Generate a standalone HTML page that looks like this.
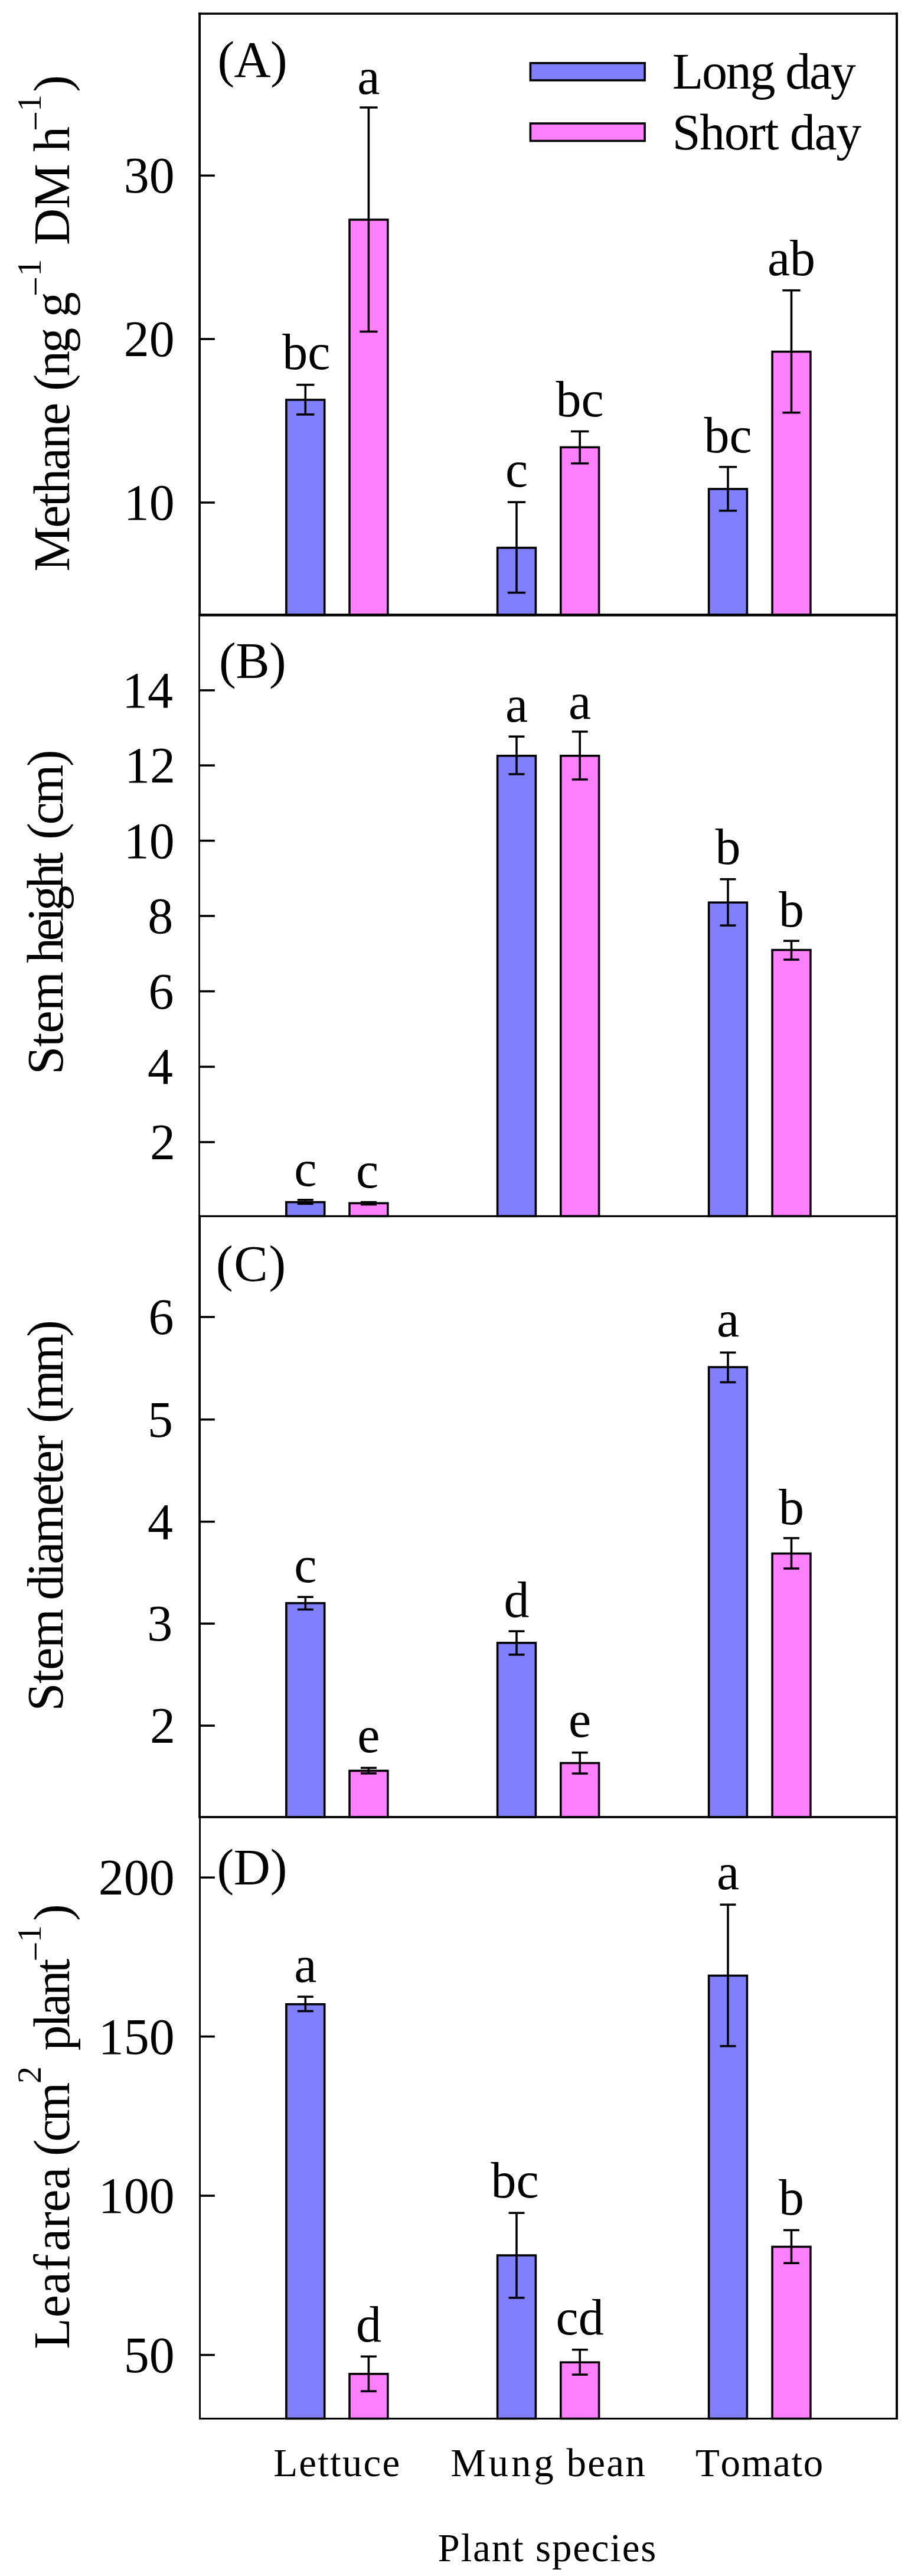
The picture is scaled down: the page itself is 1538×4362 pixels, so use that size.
<!DOCTYPE html>
<html lang="en"><head><meta charset="utf-8"><title>Figure</title>
<style>html,body{margin:0;padding:0;background:#fff}svg{display:block}text{font-family:"Liberation Serif", "Times New Roman", serif;fill:#000;font-kerning:none;font-variant-ligatures:none}</style></head><body>
<svg width="1538" height="4362" viewBox="0 0 1538 4362">
<rect width="1538" height="4362" fill="#fff"/>
<g id="panel0">
<rect x="484.90" y="677.00" width="64.80" height="364.40" fill="#8080ff" stroke="#000" stroke-width="3.6"/>
<line x1="517.30" y1="651.60" x2="517.30" y2="701.90" stroke="#000" stroke-width="3.6"/>
<line x1="502.10" y1="651.60" x2="532.50" y2="651.60" stroke="#000" stroke-width="3.6"/>
<line x1="502.10" y1="701.90" x2="532.50" y2="701.90" stroke="#000" stroke-width="3.6"/>
<text x="518.9" y="625.3" font-size="86" text-anchor="middle">bc</text>
<rect x="592.00" y="372.00" width="64.80" height="669.40" fill="#ff80ff" stroke="#000" stroke-width="3.6"/>
<line x1="624.40" y1="182.00" x2="624.40" y2="561.50" stroke="#000" stroke-width="3.6"/>
<line x1="609.20" y1="182.00" x2="639.60" y2="182.00" stroke="#000" stroke-width="3.6"/>
<line x1="609.20" y1="561.50" x2="639.60" y2="561.50" stroke="#000" stroke-width="3.6"/>
<text x="624.4" y="158.6" font-size="86" text-anchor="middle">a</text>
<rect x="842.60" y="927.60" width="64.80" height="113.80" fill="#8080ff" stroke="#000" stroke-width="3.6"/>
<line x1="875.00" y1="850.30" x2="875.00" y2="1003.60" stroke="#000" stroke-width="3.6"/>
<line x1="859.80" y1="850.30" x2="890.20" y2="850.30" stroke="#000" stroke-width="3.6"/>
<line x1="859.80" y1="1003.60" x2="890.20" y2="1003.60" stroke="#000" stroke-width="3.6"/>
<text x="875.0" y="824.0" font-size="86" text-anchor="middle">c</text>
<rect x="949.80" y="757.40" width="64.80" height="284.00" fill="#ff80ff" stroke="#000" stroke-width="3.6"/>
<line x1="982.20" y1="730.50" x2="982.20" y2="784.70" stroke="#000" stroke-width="3.6"/>
<line x1="967.00" y1="730.50" x2="997.40" y2="730.50" stroke="#000" stroke-width="3.6"/>
<line x1="967.00" y1="784.70" x2="997.40" y2="784.70" stroke="#000" stroke-width="3.6"/>
<text x="982.2" y="704.5" font-size="86" text-anchor="middle">bc</text>
<rect x="1200.60" y="828.00" width="64.80" height="213.40" fill="#8080ff" stroke="#000" stroke-width="3.6"/>
<line x1="1233.00" y1="790.70" x2="1233.00" y2="864.80" stroke="#000" stroke-width="3.6"/>
<line x1="1217.80" y1="790.70" x2="1248.20" y2="790.70" stroke="#000" stroke-width="3.6"/>
<line x1="1217.80" y1="864.80" x2="1248.20" y2="864.80" stroke="#000" stroke-width="3.6"/>
<text x="1233.0" y="765.6" font-size="86" text-anchor="middle">bc</text>
<rect x="1308.10" y="595.50" width="64.80" height="445.90" fill="#ff80ff" stroke="#000" stroke-width="3.6"/>
<line x1="1340.50" y1="491.70" x2="1340.50" y2="698.70" stroke="#000" stroke-width="3.6"/>
<line x1="1325.30" y1="491.70" x2="1355.70" y2="491.70" stroke="#000" stroke-width="3.6"/>
<line x1="1325.30" y1="698.70" x2="1355.70" y2="698.70" stroke="#000" stroke-width="3.6"/>
<text x="1340.5" y="465.7" font-size="86" text-anchor="middle">ab</text>
<line x1="338.10" y1="297.30" x2="363.90" y2="297.30" stroke="#000" stroke-width="3.6"/>
<text x="295.7" y="326.3" font-size="86" text-anchor="end">30</text>
<line x1="338.10" y1="574.10" x2="363.90" y2="574.10" stroke="#000" stroke-width="3.6"/>
<text x="295.7" y="603.1" font-size="86" text-anchor="end">20</text>
<line x1="338.10" y1="851.00" x2="363.90" y2="851.00" stroke="#000" stroke-width="3.6"/>
<text x="295.7" y="880.0" font-size="86" text-anchor="end">10</text>
<text x="368.4" y="129.5" font-size="86" style="letter-spacing:-0.61px">(A)</text>
</g>
<g id="panel1">
<rect x="484.90" y="2035.60" width="64.80" height="23.80" fill="#8080ff" stroke="#000" stroke-width="3.6"/>
<line x1="517.30" y1="2031.80" x2="517.30" y2="2038.40" stroke="#000" stroke-width="3.6"/>
<line x1="503.80" y1="2031.80" x2="530.80" y2="2031.80" stroke="#000" stroke-width="3.6"/>
<line x1="503.80" y1="2038.40" x2="530.80" y2="2038.40" stroke="#000" stroke-width="3.6"/>
<text x="517.3" y="2008.4" font-size="86" text-anchor="middle">c</text>
<rect x="592.00" y="2037.40" width="64.80" height="22.00" fill="#ff80ff" stroke="#000" stroke-width="3.6"/>
<line x1="624.40" y1="2035.60" x2="624.40" y2="2039.60" stroke="#000" stroke-width="3.6"/>
<line x1="610.90" y1="2035.60" x2="637.90" y2="2035.60" stroke="#000" stroke-width="3.6"/>
<line x1="610.90" y1="2039.60" x2="637.90" y2="2039.60" stroke="#000" stroke-width="3.6"/>
<text x="622.1" y="2010.7" font-size="86" text-anchor="middle">c</text>
<rect x="842.60" y="1279.80" width="64.80" height="779.60" fill="#8080ff" stroke="#000" stroke-width="3.6"/>
<line x1="875.00" y1="1247.20" x2="875.00" y2="1310.90" stroke="#000" stroke-width="3.6"/>
<line x1="861.50" y1="1247.20" x2="888.50" y2="1247.20" stroke="#000" stroke-width="3.6"/>
<line x1="861.50" y1="1310.90" x2="888.50" y2="1310.90" stroke="#000" stroke-width="3.6"/>
<text x="875.0" y="1222.4" font-size="86" text-anchor="middle">a</text>
<rect x="949.80" y="1279.80" width="64.80" height="779.60" fill="#ff80ff" stroke="#000" stroke-width="3.6"/>
<line x1="982.20" y1="1238.90" x2="982.20" y2="1319.90" stroke="#000" stroke-width="3.6"/>
<line x1="968.70" y1="1238.90" x2="995.70" y2="1238.90" stroke="#000" stroke-width="3.6"/>
<line x1="968.70" y1="1319.90" x2="995.70" y2="1319.90" stroke="#000" stroke-width="3.6"/>
<text x="982.2" y="1216.8" font-size="86" text-anchor="middle">a</text>
<rect x="1200.60" y="1528.20" width="64.80" height="531.20" fill="#8080ff" stroke="#000" stroke-width="3.6"/>
<line x1="1233.00" y1="1488.80" x2="1233.00" y2="1567.10" stroke="#000" stroke-width="3.6"/>
<line x1="1219.50" y1="1488.80" x2="1246.50" y2="1488.80" stroke="#000" stroke-width="3.6"/>
<line x1="1219.50" y1="1567.10" x2="1246.50" y2="1567.10" stroke="#000" stroke-width="3.6"/>
<text x="1233.0" y="1463.4" font-size="86" text-anchor="middle">b</text>
<rect x="1308.10" y="1608.60" width="64.80" height="450.80" fill="#ff80ff" stroke="#000" stroke-width="3.6"/>
<line x1="1340.50" y1="1593.20" x2="1340.50" y2="1625.00" stroke="#000" stroke-width="3.6"/>
<line x1="1327.00" y1="1593.20" x2="1354.00" y2="1593.20" stroke="#000" stroke-width="3.6"/>
<line x1="1327.00" y1="1625.00" x2="1354.00" y2="1625.00" stroke="#000" stroke-width="3.6"/>
<text x="1340.5" y="1568.8" font-size="86" text-anchor="middle">b</text>
<line x1="338.10" y1="1168.90" x2="363.90" y2="1168.90" stroke="#000" stroke-width="3.6"/>
<text x="292.9" y="1197.9" font-size="86" text-anchor="end">14</text>
<line x1="338.10" y1="1296.10" x2="363.90" y2="1296.10" stroke="#000" stroke-width="3.6"/>
<text x="296.9" y="1325.1" font-size="86" text-anchor="end">12</text>
<line x1="338.10" y1="1423.60" x2="363.90" y2="1423.60" stroke="#000" stroke-width="3.6"/>
<text x="295.7" y="1452.6" font-size="86" text-anchor="end">10</text>
<line x1="338.10" y1="1551.00" x2="363.90" y2="1551.00" stroke="#000" stroke-width="3.6"/>
<text x="293.3" y="1580.0" font-size="86" text-anchor="end">8</text>
<line x1="338.10" y1="1678.60" x2="363.90" y2="1678.60" stroke="#000" stroke-width="3.6"/>
<text x="294.4" y="1707.6" font-size="86" text-anchor="end">6</text>
<line x1="338.10" y1="1806.40" x2="363.90" y2="1806.40" stroke="#000" stroke-width="3.6"/>
<text x="292.9" y="1835.4" font-size="86" text-anchor="end">4</text>
<line x1="338.10" y1="1934.00" x2="363.90" y2="1934.00" stroke="#000" stroke-width="3.6"/>
<text x="296.9" y="1963.0" font-size="86" text-anchor="end">2</text>
<text x="371.1" y="1147.5" font-size="86" style="letter-spacing:-0.59px">(B)</text>
</g>
<g id="panel2">
<rect x="484.90" y="2714.60" width="64.80" height="362.30" fill="#8080ff" stroke="#000" stroke-width="3.6"/>
<line x1="517.30" y1="2704.20" x2="517.30" y2="2725.40" stroke="#000" stroke-width="3.6"/>
<line x1="503.80" y1="2704.20" x2="530.80" y2="2704.20" stroke="#000" stroke-width="3.6"/>
<line x1="503.80" y1="2725.40" x2="530.80" y2="2725.40" stroke="#000" stroke-width="3.6"/>
<text x="517.3" y="2679.1" font-size="86" text-anchor="middle">c</text>
<rect x="592.00" y="2998.50" width="64.80" height="78.40" fill="#ff80ff" stroke="#000" stroke-width="3.6"/>
<line x1="624.40" y1="2993.60" x2="624.40" y2="3002.90" stroke="#000" stroke-width="3.6"/>
<line x1="610.90" y1="2993.60" x2="637.90" y2="2993.60" stroke="#000" stroke-width="3.6"/>
<line x1="610.90" y1="3002.90" x2="637.90" y2="3002.90" stroke="#000" stroke-width="3.6"/>
<text x="624.4" y="2966.5" font-size="86" text-anchor="middle">e</text>
<rect x="842.60" y="2781.90" width="64.80" height="295.00" fill="#8080ff" stroke="#000" stroke-width="3.6"/>
<line x1="875.00" y1="2762.20" x2="875.00" y2="2801.90" stroke="#000" stroke-width="3.6"/>
<line x1="861.50" y1="2762.20" x2="888.50" y2="2762.20" stroke="#000" stroke-width="3.6"/>
<line x1="861.50" y1="2801.90" x2="888.50" y2="2801.90" stroke="#000" stroke-width="3.6"/>
<text x="875.0" y="2738.4" font-size="86" text-anchor="middle">d</text>
<rect x="949.80" y="2985.40" width="64.80" height="91.50" fill="#ff80ff" stroke="#000" stroke-width="3.6"/>
<line x1="982.20" y1="2967.70" x2="982.20" y2="3003.10" stroke="#000" stroke-width="3.6"/>
<line x1="968.70" y1="2967.70" x2="995.70" y2="2967.70" stroke="#000" stroke-width="3.6"/>
<line x1="968.70" y1="3003.10" x2="995.70" y2="3003.10" stroke="#000" stroke-width="3.6"/>
<text x="982.2" y="2941.3" font-size="86" text-anchor="middle">e</text>
<rect x="1200.60" y="2315.00" width="64.80" height="761.90" fill="#8080ff" stroke="#000" stroke-width="3.6"/>
<line x1="1233.00" y1="2290.30" x2="1233.00" y2="2340.60" stroke="#000" stroke-width="3.6"/>
<line x1="1219.50" y1="2290.30" x2="1246.50" y2="2290.30" stroke="#000" stroke-width="3.6"/>
<line x1="1219.50" y1="2340.60" x2="1246.50" y2="2340.60" stroke="#000" stroke-width="3.6"/>
<text x="1233.0" y="2263.3" font-size="86" text-anchor="middle">a</text>
<rect x="1308.10" y="2630.60" width="64.80" height="446.30" fill="#ff80ff" stroke="#000" stroke-width="3.6"/>
<line x1="1340.50" y1="2604.50" x2="1340.50" y2="2656.00" stroke="#000" stroke-width="3.6"/>
<line x1="1327.00" y1="2604.50" x2="1354.00" y2="2604.50" stroke="#000" stroke-width="3.6"/>
<line x1="1327.00" y1="2656.00" x2="1354.00" y2="2656.00" stroke="#000" stroke-width="3.6"/>
<text x="1340.5" y="2580.7" font-size="86" text-anchor="middle">b</text>
<line x1="338.10" y1="2230.10" x2="363.90" y2="2230.10" stroke="#000" stroke-width="3.6"/>
<text x="294.4" y="2259.1" font-size="86" text-anchor="end">6</text>
<line x1="338.10" y1="2403.70" x2="363.90" y2="2403.70" stroke="#000" stroke-width="3.6"/>
<text x="293.0" y="2432.7" font-size="86" text-anchor="end">5</text>
<line x1="338.10" y1="2576.70" x2="363.90" y2="2576.70" stroke="#000" stroke-width="3.6"/>
<text x="292.9" y="2605.7" font-size="86" text-anchor="end">4</text>
<line x1="338.10" y1="2749.30" x2="363.90" y2="2749.30" stroke="#000" stroke-width="3.6"/>
<text x="292.2" y="2778.3" font-size="86" text-anchor="end">3</text>
<line x1="338.10" y1="2922.10" x2="363.90" y2="2922.10" stroke="#000" stroke-width="3.6"/>
<text x="296.9" y="2951.1" font-size="86" text-anchor="end">2</text>
<text x="366.0" y="2168.7" font-size="86" style="letter-spacing:1.71px">(C)</text>
</g>
<g id="panel3">
<rect x="484.90" y="3393.80" width="64.80" height="701.70" fill="#8080ff" stroke="#000" stroke-width="3.6"/>
<line x1="517.30" y1="3381.10" x2="517.30" y2="3405.50" stroke="#000" stroke-width="3.6"/>
<line x1="503.80" y1="3381.10" x2="530.80" y2="3381.10" stroke="#000" stroke-width="3.6"/>
<line x1="503.80" y1="3405.50" x2="530.80" y2="3405.50" stroke="#000" stroke-width="3.6"/>
<text x="517.3" y="3356.0" font-size="86" text-anchor="middle">a</text>
<rect x="592.00" y="4019.80" width="64.80" height="75.70" fill="#ff80ff" stroke="#000" stroke-width="3.6"/>
<line x1="624.40" y1="3990.30" x2="624.40" y2="4049.10" stroke="#000" stroke-width="3.6"/>
<line x1="610.90" y1="3990.30" x2="637.90" y2="3990.30" stroke="#000" stroke-width="3.6"/>
<line x1="610.90" y1="4049.10" x2="637.90" y2="4049.10" stroke="#000" stroke-width="3.6"/>
<text x="624.4" y="3965.2" font-size="86" text-anchor="middle">d</text>
<rect x="842.60" y="3819.00" width="64.80" height="276.50" fill="#8080ff" stroke="#000" stroke-width="3.6"/>
<line x1="875.00" y1="3747.20" x2="875.00" y2="3890.90" stroke="#000" stroke-width="3.6"/>
<line x1="861.50" y1="3747.20" x2="888.50" y2="3747.20" stroke="#000" stroke-width="3.6"/>
<line x1="861.50" y1="3890.90" x2="888.50" y2="3890.90" stroke="#000" stroke-width="3.6"/>
<text x="872.0" y="3720.8" font-size="86" text-anchor="middle">bc</text>
<rect x="949.80" y="4000.20" width="64.80" height="95.30" fill="#ff80ff" stroke="#000" stroke-width="3.6"/>
<line x1="982.20" y1="3978.80" x2="982.20" y2="4021.00" stroke="#000" stroke-width="3.6"/>
<line x1="968.70" y1="3978.80" x2="995.70" y2="3978.80" stroke="#000" stroke-width="3.6"/>
<line x1="968.70" y1="4021.00" x2="995.70" y2="4021.00" stroke="#000" stroke-width="3.6"/>
<text x="982.2" y="3953.0" font-size="86" text-anchor="middle">cd</text>
<rect x="1200.60" y="3345.40" width="64.80" height="750.10" fill="#8080ff" stroke="#000" stroke-width="3.6"/>
<line x1="1233.00" y1="3225.20" x2="1233.00" y2="3464.70" stroke="#000" stroke-width="3.6"/>
<line x1="1219.50" y1="3225.20" x2="1246.50" y2="3225.20" stroke="#000" stroke-width="3.6"/>
<line x1="1219.50" y1="3464.70" x2="1246.50" y2="3464.70" stroke="#000" stroke-width="3.6"/>
<text x="1233.0" y="3199.1" font-size="86" text-anchor="middle">a</text>
<rect x="1308.10" y="3804.50" width="64.80" height="291.00" fill="#ff80ff" stroke="#000" stroke-width="3.6"/>
<line x1="1340.50" y1="3776.40" x2="1340.50" y2="3832.20" stroke="#000" stroke-width="3.6"/>
<line x1="1327.00" y1="3776.40" x2="1354.00" y2="3776.40" stroke="#000" stroke-width="3.6"/>
<line x1="1327.00" y1="3832.20" x2="1354.00" y2="3832.20" stroke="#000" stroke-width="3.6"/>
<text x="1340.5" y="3750.3" font-size="86" text-anchor="middle">b</text>
<line x1="338.10" y1="3179.20" x2="363.90" y2="3179.20" stroke="#000" stroke-width="3.6"/>
<text x="295.7" y="3208.2" font-size="86" text-anchor="end">200</text>
<line x1="338.10" y1="3448.50" x2="363.90" y2="3448.50" stroke="#000" stroke-width="3.6"/>
<text x="295.7" y="3477.5" font-size="86" text-anchor="end">150</text>
<line x1="338.10" y1="3718.10" x2="363.90" y2="3718.10" stroke="#000" stroke-width="3.6"/>
<text x="295.7" y="3747.1" font-size="86" text-anchor="end">100</text>
<line x1="338.10" y1="3987.70" x2="363.90" y2="3987.70" stroke="#000" stroke-width="3.6"/>
<text x="295.7" y="4016.7" font-size="86" text-anchor="end">50</text>
<text x="367.4" y="3190.6" font-size="86" style="letter-spacing:-0.21px">(D)</text>
</g>
<rect x="336.20" y="21.40" width="1184.80" height="3.50" fill="#000"/>
<rect x="336.20" y="1039.10" width="1184.80" height="4.60" fill="#000"/>
<rect x="336.20" y="2057.80" width="1184.80" height="3.20" fill="#000"/>
<rect x="336.20" y="3075.00" width="1184.80" height="3.80" fill="#000"/>
<rect x="337.10" y="4094.00" width="1183.90" height="3.00" fill="#000"/>
<rect x="336.20" y="21.40" width="3.80" height="1020.00" fill="#000"/>
<rect x="336.20" y="1041.40" width="2.70" height="1018.00" fill="#000"/>
<rect x="336.20" y="2059.40" width="3.80" height="1017.50" fill="#000"/>
<rect x="337.10" y="3076.90" width="2.90" height="1020.10" fill="#000"/>
<rect x="1517.10" y="21.40" width="3.90" height="4075.60" fill="#000"/>
<rect x="898.4" y="106.8" width="193.7" height="29.2" fill="#8080ff" stroke="#000" stroke-width="3.6"/>
<rect x="898.4" y="209.0" width="193.7" height="29.6" fill="#ff80ff" stroke="#000" stroke-width="3.6"/>
<text x="1138.8" y="150.2" font-size="86" style="letter-spacing:-2.31px">Long day</text>
<text x="1138.7" y="252.6" font-size="86" style="letter-spacing:-1.43px">Short day</text>
<text transform="translate(117.3,967.8) rotate(-90)" font-size="86" style="letter-spacing:-2.47px">Methane</text>
<text transform="translate(117.3,661.9) rotate(-90)" font-size="86" style="letter-spacing:-3.76px">(ng</text>
<text transform="translate(117.3,537.2) rotate(-90)" font-size="86">g</text>
<text transform="translate(79.6,502.0) rotate(-90)" font-size="60">−</text>
<text transform="translate(69.0,467.8) rotate(-90)" font-size="58">1</text>
<text transform="translate(117.3,414.9) rotate(-90)" font-size="86" style="letter-spacing:-1.08px">DM</text>
<text transform="translate(117.3,256.9) rotate(-90)" font-size="86">h</text>
<text transform="translate(79.6,222.0) rotate(-90)" font-size="60">−</text>
<text transform="translate(69.0,188.9) rotate(-90)" font-size="58">1</text>
<text transform="translate(117.3,155.7) rotate(-90)" font-size="86">)</text>
<text transform="translate(106.3,1819.5) rotate(-90)" font-size="86" style="letter-spacing:-0.80px">Stem</text>
<text transform="translate(106.3,1630.7) rotate(-90)" font-size="86" style="letter-spacing:-5.54px">height</text>
<text transform="translate(106.3,1421.7) rotate(-90)" font-size="86" style="letter-spacing:-3.36px">(cm)</text>
<text transform="translate(106.3,2897.5) rotate(-90)" font-size="86" style="letter-spacing:-1.10px">Stem</text>
<text transform="translate(106.3,2709.6) rotate(-90)" font-size="86" style="letter-spacing:-3.07px">diameter</text>
<text transform="translate(106.3,2409.9) rotate(-90)" font-size="86" style="letter-spacing:-5.44px">(mm)</text>
<text transform="translate(117.3,3977.8) rotate(-90)" font-size="86" style="letter-spacing:1.02px">Leaf</text>
<text transform="translate(117.3,3812.0) rotate(-90)" font-size="86" style="letter-spacing:-0.28px">area</text>
<text transform="translate(117.3,3651.0) rotate(-90)" font-size="86" style="letter-spacing:-4.29px">(cm</text>
<text transform="translate(69.0,3527.9) rotate(-90)" font-size="58">2</text>
<text transform="translate(117.3,3472.4) rotate(-90)" font-size="86" style="letter-spacing:-4.07px">plant</text>
<text transform="translate(79.6,3321.5) rotate(-90)" font-size="60">−</text>
<text transform="translate(69.0,3288.9) rotate(-90)" font-size="58">1</text>
<text transform="translate(117.3,3252.8) rotate(-90)" font-size="86">)</text>
<text x="463.2" y="4193.4" font-size="67" style="letter-spacing:2.18px">Lettuce</text>
<text x="763.2" y="4193.2" font-size="67" style="letter-spacing:4.81px">Mung</text>
<text x="959.4" y="4193.2" font-size="67" style="letter-spacing:2.31px">bean</text>
<text x="1178.1" y="4193.0" font-size="67" style="letter-spacing:1.53px">Tomato</text>
<text x="741.6" y="4336.5" font-size="67" style="letter-spacing:1.82px">Plant species</text>
</svg></body></html>
